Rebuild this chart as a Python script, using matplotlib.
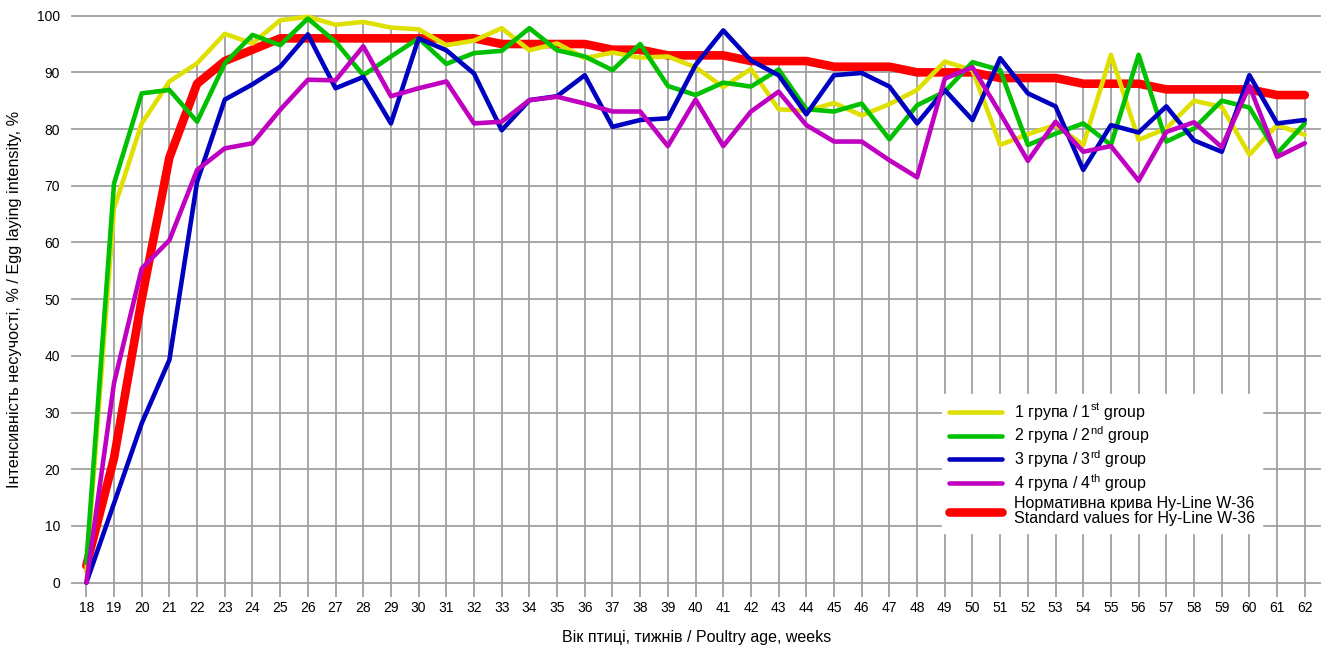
import numpy as np
import matplotlib
matplotlib.use('Agg')
import matplotlib.pyplot as plt

plt.rcParams['font.family'] = ['Liberation Sans', 'DejaVu Sans']
plt.rcParams['mathtext.fontset'] = 'custom'
plt.rcParams['mathtext.rm'] = 'Liberation Sans'

weeks = list(range(18, 63))

group1 = [2, 66, 81, 88.4, 91.6, 96.8, 95.1, 99.2, 99.8, 98.4,
          98.9, 97.9, 97.6, 94.8, 95.6, 97.8, 93.9, 95.1, 92.5, 93.5,
          92.6, 92.8, 90.9, 87.4, 90.6, 83.5, 83.2, 84.6, 82.4, 84.4,
          86.9, 91.9, 90.4, 77.2, 79.1, 80.7, 77.2, 93.1, 78.1, 80.1,
          85, 83.9, 75.5, 80.7, 79]
group2 = [3.5, 70.4, 86.3, 86.9, 81.3, 91.6, 96.6, 94.8, 99.5, 95.4,
          89.5, 92.8, 96, 91.5, 93.4, 93.8, 97.8, 93.9, 92.8, 90.4,
          95, 87.6, 86, 88.2, 87.5, 90.5, 83.5, 83.1, 84.5, 78.2,
          84.2, 86.6, 91.8, 90.4, 77.2, 79.2, 81, 77.2, 93.1, 77.8,
          80.1, 85, 83.8, 75.7, 81]
group3 = [0, 14, 28.1, 39.3, 70.7, 85.2, 87.9, 91, 96.7, 87.2,
          89.2, 81, 96, 93.9, 89.8, 79.8, 85.1, 85.8, 89.5, 80.4,
          81.6, 81.9, 91.3, 97.4, 92.1, 89.5, 82.6, 89.5, 89.9, 87.5,
          81, 86.9, 81.6, 92.5, 86.3, 84, 72.8, 80.7, 79.4, 84,
          78, 76, 89.5, 81, 81.6]
group4 = [0, 35.2, 55.4, 60.4, 72.8, 76.6, 77.5, 83.4, 88.7, 88.6,
          94.6, 85.8, 87.2, 88.4, 81, 81.3, 85.1, 85.7, 84.5, 83.1,
          83.1, 77, 85.2, 77, 83.1, 86.6, 80.7, 77.8, 77.8, 74.5,
          71.5, 88.9, 90.9, 82.8, 74.4, 81.3, 76, 77, 70.9, 79.5,
          81.2, 76.8, 87.6, 75.1, 77.5]
standard = [3, 22, 50, 75, 88, 92, 94, 96, 96, 96,
            96, 96, 96, 96, 96, 95, 95, 95, 95, 94,
            94, 93, 93, 93, 92, 92, 92, 91, 91, 91,
            90, 90, 90, 89, 89, 89, 88, 88, 88, 87,
            87, 87, 87, 86, 86]

labels = [r'1 група / 1$^{\mathrm{st}}$ group',
          r'2 група / 2$^{\mathrm{nd}}$ group',
          r'3 група / 3$^{\mathrm{rd}}$ group',
          r'4 група / 4$^{\mathrm{th}}$ group',
          'Нормативна крива Hy-Line W-36\nStandard values for Hy-Line W-36']

grid_col = '#a0a0a0'

fig = plt.figure(figsize=(13.3, 6.48), dpi=100)
ax = fig.add_axes([0.0545, 0.1008, 0.938, 0.875])

# drop lines from the highest value at each week
top = np.max(np.array([group1, group2, group3, group4, standard]), axis=0)
ax.vlines(weeks, 0, top, color=grid_col, lw=1.3, zorder=1)

ax.set_yticks(range(0, 101, 10))
ax.yaxis.grid(True, color=grid_col, lw=1.3)
for gl in ax.get_ygridlines():
    gl.set_clip_on(False)
ax.set_axisbelow(True)

kw = dict(solid_capstyle='round', solid_joinstyle='round', clip_on=False)
h5, = ax.plot(weeks, standard, color='#ff0000', lw=6.2, zorder=2, **kw)
h1, = ax.plot(weeks, group1, color='#e0e000', lw=3.3, zorder=3, **kw)
h2, = ax.plot(weeks, group2, color='#00c000', lw=3.3, zorder=4, **kw)
h3, = ax.plot(weeks, group3, color='#0000c0', lw=3.3, zorder=5, **kw)
h4, = ax.plot(weeks, group4, color='#c000c0', lw=3.3, zorder=6, **kw)

ax.set_xlim(17.5, 62.55)
ax.set_ylim(0, 100)
ax.set_xticks(weeks)
for s in ax.spines.values():
    s.set_visible(False)
ax.tick_params(axis='x', length=10, width=1.3, color=grid_col, pad=3, labelsize=10)
ax.tick_params(axis='y', length=0, pad=9, labelsize=10)

ax.set_xlabel('Вік птиці, тижнів / Poultry age, weeks', fontsize=11.5, labelpad=11)
ax.set_ylabel('Інтенсивність несучості, % / Egg laying intensity, %', fontsize=11.7, labelpad=11)

leg = ax.legend([h1, h2, h3, h4, h5], labels, loc='upper left',
                bbox_to_anchor=(934 / 1330, 1 - 386 / 648), bbox_transform=fig.transFigure,
                fontsize=11.5, frameon=True, fancybox=False, framealpha=1,
                edgecolor='white', handlelength=3.3, handletextpad=0.75,
                labelspacing=0.14, borderpad=0.45)
leg.get_texts()[4].set_linespacing(1.0)
leg.set_zorder(10)

fig.savefig('out.png', dpi=100)
